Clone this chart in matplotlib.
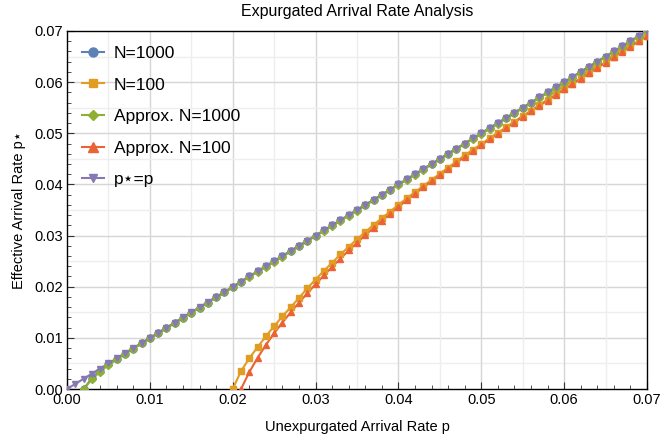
import numpy as np
import matplotlib
matplotlib.use("Agg")
import matplotlib.pyplot as plt
from matplotlib.ticker import MultipleLocator

plt.rcParams['font.family'] = ['Liberation Sans', 'DejaVu Sans']

# sampling grid of arrival rates p (steps of 0.001)
p_all = [round(0.001 * k, 3) for k in range(0, 71)]
p_1000 = p_all[2:]
p_100 = p_all[20:]
p_100_approx = p_all[21:]

# effective arrival rate p*
n1000 = [0.0000, 0.0021, 0.0036, 0.0048, 0.0059, 0.0069, 0.0079, 0.0089, 0.0099,
         0.0109, 0.0119, 0.0129, 0.0139, 0.0149, 0.0159, 0.0169, 0.0179, 0.0189,
         0.0199, 0.0210, 0.0220, 0.0230, 0.0240, 0.0250, 0.0260, 0.0270, 0.0280,
         0.0290, 0.0300, 0.0310, 0.0320, 0.0330, 0.0340, 0.0350, 0.0360, 0.0370,
         0.0380, 0.0390, 0.0400, 0.0410, 0.0420, 0.0430, 0.0440, 0.0450, 0.0460,
         0.0470, 0.0480, 0.0490, 0.0500, 0.0510, 0.0520, 0.0530, 0.0540, 0.0550,
         0.0560, 0.0570, 0.0580, 0.0590, 0.0600, 0.0610, 0.0620, 0.0630, 0.0640,
         0.0650, 0.0660, 0.0670, 0.0680, 0.0690, 0.0700]

approx1000 = [0.0000, 0.0019, 0.0034, 0.0047, 0.0058, 0.0069, 0.0079, 0.0089, 0.0099,
              0.0109, 0.0119, 0.0129, 0.0139, 0.0149, 0.0159, 0.0169, 0.0179, 0.0189,
              0.0199, 0.0209, 0.0219, 0.0229, 0.0239, 0.0249, 0.0259, 0.0269, 0.0279,
              0.0289, 0.0299, 0.0309, 0.0319, 0.0329, 0.0339, 0.0349, 0.0359, 0.0369,
              0.0379, 0.0389, 0.0399, 0.0409, 0.0419, 0.0429, 0.0439, 0.0449, 0.0459,
              0.0469, 0.0479, 0.0489, 0.0499, 0.0509, 0.0519, 0.0529, 0.0539, 0.0549,
              0.0559, 0.0569, 0.0579, 0.0589, 0.0599, 0.0609, 0.0619, 0.0629, 0.0639,
              0.0649, 0.0659, 0.0669, 0.0679, 0.0689, 0.0699]

n100 = [0.0000, 0.0035, 0.0060, 0.0082, 0.0103, 0.0123, 0.0142, 0.0160, 0.0178,
        0.0197, 0.0214, 0.0231, 0.0247, 0.0263, 0.0278, 0.0293, 0.0307, 0.0321,
        0.0334, 0.0347, 0.0360, 0.0373, 0.0385, 0.0397, 0.0409, 0.0421, 0.0433,
        0.0445, 0.0457, 0.0468, 0.0479, 0.0490, 0.0501, 0.0512, 0.0523, 0.0534,
        0.0544, 0.0555, 0.0566, 0.0576, 0.0587, 0.0597, 0.0608, 0.0618, 0.0629,
        0.0639, 0.0650, 0.0660, 0.0670, 0.0681, 0.0691]

approx100 = [0.0000, 0.0033, 0.0061, 0.0086, 0.0109, 0.0130, 0.0150, 0.0169, 0.0187,
             0.0205, 0.0222, 0.0239, 0.0255, 0.0271, 0.0286, 0.0301, 0.0315, 0.0329,
             0.0343, 0.0356, 0.0369, 0.0382, 0.0394, 0.0406, 0.0418, 0.0430, 0.0442,
             0.0454, 0.0465, 0.0477, 0.0488, 0.0499, 0.0510, 0.0521, 0.0532, 0.0543,
             0.0554, 0.0564, 0.0575, 0.0586, 0.0596, 0.0607, 0.0617, 0.0628, 0.0638,
             0.0649, 0.0659, 0.0669, 0.0680, 0.0690]

identity = p_all

series = [
    ("N=1000", p_1000, n1000, "#5E81B5", "o", 5.0),
    ("N=100", p_100, n100, "#E19C24", "s", 4.4),
    ("Approx. N=1000", p_1000, approx1000, "#8FB032", "D", 3.8),
    ("Approx. N=100", p_100_approx, approx100, "#EB6235", "^", 5.0),
    ("p\u22c6=p", p_all, identity, "#8778B3", "v", 4.8),
]

fig = plt.figure(figsize=(6.61, 4.42), dpi=100)
ax = fig.add_axes([0.1014, 0.1199, 0.8774, 0.81])

line_z = {"p\u22c6=p": 2.0}
for i, (lab, x, y, c, m, ms) in enumerate(series):
    ax.plot(x, y, "-", color=c, lw=1.5, zorder=line_z.get(lab, 2.1 + 0.1 * i))
for i, (lab, x, y, c, m, ms) in enumerate(series):
    ax.plot(x, y, linestyle="none", marker=m, ms=ms, color=c, mec=c,
            zorder=3 + 0.1 * i)

# legend proxies
handles = [plt.Line2D([], [], color=c, lw=1.5, marker=m, ms=ms + 1.5, mec=c)
           for (lab, x, y, c, m, ms) in series]
ax.legend(handles, [s[0] for s in series], loc="upper left", frameon=False,
          fontsize=12.5, handlelength=1.3, handletextpad=0.55, labelspacing=0.95,
          borderaxespad=0.45, bbox_to_anchor=(0.0, 1.0))

ax.set_xlim(0, 0.07)
ax.set_ylim(0, 0.07)
ax.xaxis.set_major_locator(MultipleLocator(0.01))
ax.yaxis.set_major_locator(MultipleLocator(0.01))
ax.xaxis.set_minor_locator(MultipleLocator(0.002))
ax.yaxis.set_minor_locator(MultipleLocator(0.002))
ax.xaxis.set_major_formatter(plt.FuncFormatter(lambda v, _: "%.2f" % v))
ax.yaxis.set_major_formatter(plt.FuncFormatter(lambda v, _: "%.2f" % v))
ax.tick_params(which="major", direction="in", length=5, width=0.8, labelsize=10.5,
               color="#333333", pad=3)
ax.tick_params(which="minor", direction="in", length=3, width=0.6, color="#333333")

# grid: light at every 0.005, slightly darker at every 0.01
for v in np.arange(0.005, 0.07, 0.005):
    major = abs(round(v / 0.01) * 0.01 - v) < 1e-9
    col = "#d6d6d6" if major else "#eeeeee"
    ax.axvline(v, color=col, lw=1.0, zorder=0)
    ax.axhline(v, color=col, lw=1.0, zorder=0)

for s in ax.spines.values():
    s.set_color("black")
    s.set_linewidth(1.0)

ax.set_title("Expurgated Arrival Rate Analysis", fontsize=11.5, pad=11)
ax.set_xlabel("Unexpurgated Arrival Rate p", fontsize=10.5, labelpad=9)
ax.set_ylabel("Effective Arrival Rate p\u22c6", fontsize=10.5, labelpad=6)

fig.savefig("out.png", dpi=100)
